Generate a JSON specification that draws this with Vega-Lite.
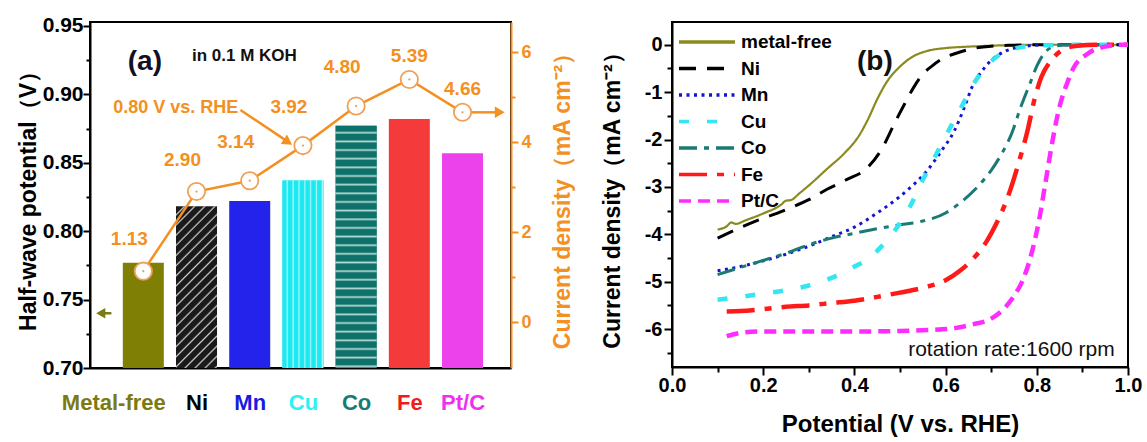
{
"$schema":"https://vega.github.io/schema/vega-lite/v6.json",
"background":"white",
"padding":{"left":16,"top":13,"right":5,"bottom":0},
"config":{
  "font":"Liberation Sans",
  "view":{"stroke":"black","strokeWidth":2},
  "axis":{"grid":false,"domainColor":"black","domainWidth":2,"tickColor":"black","tickWidth":2,"labelFont":"Liberation Sans","labelFontWeight":"bold","labelFontSize":20,"labelColor":"black","titleFont":"Liberation Sans","titleFontWeight":"bold","titleFontSize":23,"titleColor":"black"},
  "text":{"font":"Liberation Sans"}
},
"spacing":24,
"resolve":{"scale":{"color":"independent","strokeDash":"independent"},"legend":{"color":"independent","strokeDash":"independent"}},
"hconcat":[
{
 "width":421,"height":346,
 "data":{"values":[
  {"idx":0,"name":"Metal-free","hwp":0.777,"cd":1.13},
  {"idx":1,"name":"Ni","hwp":0.818,"cd":2.90},
  {"idx":2,"name":"Mn","hwp":0.822,"cd":3.14},
  {"idx":3,"name":"Cu","hwp":0.837,"cd":3.92},
  {"idx":4,"name":"Co","hwp":0.877,"cd":4.80},
  {"idx":5,"name":"Fe","hwp":0.882,"cd":5.39},
  {"idx":6,"name":"Pt/C","hwp":0.857,"cd":4.66}
 ]},
 "encoding":{
  "x":{"field":"idx","type":"quantitative","scale":{"domain":[-0.908,6.817],"nice":false,"zero":false},
       "axis":{"values":[0,1,2,3,4,5,6],"labelExpr":"['Metal-free','Ni','Mn','Cu','Co','Fe','Pt/C'][datum.value]","ticks":false,"labelPadding":24,"labelFontSize":22,"labelFlush":false,"labelOverlap":false,"title":null,
        "labelOffset":{"condition":{"test":"datum.value==0","value":-30},"value":0},
        "labelColor":{"condition":[{"test":"datum.value==0","value":"#7b7b12"},{"test":"datum.value==2","value":"#1a1ae0"},{"test":"datum.value==3","value":"#2ef0f5"},{"test":"datum.value==4","value":"#187a74"},{"test":"datum.value==5","value":"#f21c1c"},{"test":"datum.value==6","value":"#f030f0"}],"value":"black"}}}
 },
 "layer":[
  {
   "encoding":{"y":{"field":"hwp","type":"quantitative","scale":{"domain":[0.70,0.9529],"nice":false,"zero":false},
      "axis":{"values":[0.70,0.725,0.75,0.775,0.80,0.825,0.85,0.875,0.90,0.925,0.95],
       "labelExpr":"abs(datum.value*20-round(datum.value*20))<0.01 ? format(datum.value,'.2f') : ''",
       "tickSize":{"condition":{"test":"abs(datum.value*20-round(datum.value*20))<0.01","value":7},"value":4},
       "labelPadding":0,"labelFontSize":21,"title":"Half-wave potential（V）","titlePadding":2}}},
   "layer":[
    {"mark":{"type":"bar","width":41},
     "encoding":{"y2":{"datum":0.70},
      "fill":{"field":"name","type":"nominal","legend":null,"scale":{"domain":["Metal-free","Ni","Mn","Cu","Co","Fe","Pt/C"],"range":["#7f7f05","#262626","#2323ec","#28ecf2","#157a72","#f43a3a","#ec42ec"]}}}},
    {"transform":[{"filter":"datum.name=='Ni'"}],
     "mark":{"type":"bar","width":41,"fill":{"gradient":"linear","x1":0,"y1":0,"x2":0.3,"y2":1.178,"stops":[
      {"offset":0,"color":"#1a1a1a"},{"offset":0.0325,"color":"#1a1a1a"},{"offset":0.0425,"color":"#c8c8c8"},
      {"offset":0.05,"color":"#1a1a1a"},{"offset":0.0825,"color":"#1a1a1a"},{"offset":0.0925,"color":"#c8c8c8"},
      {"offset":0.10,"color":"#1a1a1a"},{"offset":0.1325,"color":"#1a1a1a"},{"offset":0.1425,"color":"#c8c8c8"},
      {"offset":0.15,"color":"#1a1a1a"},{"offset":0.1825,"color":"#1a1a1a"},{"offset":0.1925,"color":"#c8c8c8"},
      {"offset":0.20,"color":"#1a1a1a"},{"offset":0.2325,"color":"#1a1a1a"},{"offset":0.2425,"color":"#c8c8c8"},
      {"offset":0.25,"color":"#1a1a1a"},{"offset":0.2825,"color":"#1a1a1a"},{"offset":0.2925,"color":"#c8c8c8"},
      {"offset":0.30,"color":"#1a1a1a"},{"offset":0.3325,"color":"#1a1a1a"},{"offset":0.3425,"color":"#c8c8c8"},
      {"offset":0.35,"color":"#1a1a1a"},{"offset":0.3825,"color":"#1a1a1a"},{"offset":0.3925,"color":"#c8c8c8"},
      {"offset":0.40,"color":"#1a1a1a"},{"offset":0.4325,"color":"#1a1a1a"},{"offset":0.4425,"color":"#c8c8c8"},
      {"offset":0.45,"color":"#1a1a1a"},{"offset":0.4825,"color":"#1a1a1a"},{"offset":0.4925,"color":"#c8c8c8"},
      {"offset":0.50,"color":"#1a1a1a"},{"offset":0.5325,"color":"#1a1a1a"},{"offset":0.5425,"color":"#c8c8c8"},
      {"offset":0.55,"color":"#1a1a1a"},{"offset":0.5825,"color":"#1a1a1a"},{"offset":0.5925,"color":"#c8c8c8"},
      {"offset":0.60,"color":"#1a1a1a"},{"offset":0.6325,"color":"#1a1a1a"},{"offset":0.6425,"color":"#c8c8c8"},
      {"offset":0.65,"color":"#1a1a1a"},{"offset":0.6825,"color":"#1a1a1a"},{"offset":0.6925,"color":"#c8c8c8"},
      {"offset":0.70,"color":"#1a1a1a"},{"offset":0.7325,"color":"#1a1a1a"},{"offset":0.7425,"color":"#c8c8c8"},
      {"offset":0.75,"color":"#1a1a1a"},{"offset":0.7825,"color":"#1a1a1a"},{"offset":0.7925,"color":"#c8c8c8"},
      {"offset":0.80,"color":"#1a1a1a"},{"offset":0.8325,"color":"#1a1a1a"},{"offset":0.8425,"color":"#c8c8c8"},
      {"offset":0.85,"color":"#1a1a1a"},{"offset":0.8825,"color":"#1a1a1a"},{"offset":0.8925,"color":"#c8c8c8"},
      {"offset":0.90,"color":"#1a1a1a"},{"offset":0.9325,"color":"#1a1a1a"},{"offset":0.9425,"color":"#c8c8c8"},
      {"offset":0.95,"color":"#1a1a1a"},{"offset":0.9825,"color":"#1a1a1a"},{"offset":0.9925,"color":"#c8c8c8"},
      {"offset":1,"color":"#1a1a1a"}]}},
     "encoding":{"y2":{"datum":0.70}}},
    {"transform":[{"filter":"datum.name=='Cu'"}],
     "mark":{"type":"bar","width":41,"fill":{"gradient":"linear","x1":0,"y1":0,"x2":1,"y2":0,"stops":[
      {"offset":0,"color":"#1fe9f0"},{"offset":0.0857,"color":"#1fe9f0"},{"offset":0.1214,"color":"#b0f8fa"},
      {"offset":0.1429,"color":"#1fe9f0"},{"offset":0.2286,"color":"#1fe9f0"},{"offset":0.2643,"color":"#b0f8fa"},
      {"offset":0.2857,"color":"#1fe9f0"},{"offset":0.3714,"color":"#1fe9f0"},{"offset":0.4071,"color":"#b0f8fa"},
      {"offset":0.4286,"color":"#1fe9f0"},{"offset":0.5143,"color":"#1fe9f0"},{"offset":0.5500,"color":"#b0f8fa"},
      {"offset":0.5714,"color":"#1fe9f0"},{"offset":0.6571,"color":"#1fe9f0"},{"offset":0.6929,"color":"#b0f8fa"},
      {"offset":0.7143,"color":"#1fe9f0"},{"offset":0.8000,"color":"#1fe9f0"},{"offset":0.8357,"color":"#b0f8fa"},
      {"offset":0.8571,"color":"#1fe9f0"},{"offset":0.9429,"color":"#1fe9f0"},{"offset":0.9786,"color":"#b0f8fa"},
      {"offset":1,"color":"#1fe9f0"}]}},
     "encoding":{"y2":{"datum":0.70}}},
    {"transform":[{"filter":"datum.name=='Co'"}],
     "mark":{"type":"bar","width":41,"fill":{"gradient":"linear","x1":0,"y1":0,"x2":0,"y2":1,"stops":[
      {"offset":0,"color":"#0f726a"},{"offset":0.0214,"color":"#0f726a"},{"offset":0.0286,"color":"#b4dad4"},
      {"offset":0.0357,"color":"#0f726a"},{"offset":0.0571,"color":"#0f726a"},{"offset":0.0643,"color":"#b4dad4"},
      {"offset":0.0714,"color":"#0f726a"},{"offset":0.0929,"color":"#0f726a"},{"offset":0.1000,"color":"#b4dad4"},
      {"offset":0.1071,"color":"#0f726a"},{"offset":0.1286,"color":"#0f726a"},{"offset":0.1357,"color":"#b4dad4"},
      {"offset":0.1429,"color":"#0f726a"},{"offset":0.1643,"color":"#0f726a"},{"offset":0.1714,"color":"#b4dad4"},
      {"offset":0.1786,"color":"#0f726a"},{"offset":0.2000,"color":"#0f726a"},{"offset":0.2071,"color":"#b4dad4"},
      {"offset":0.2143,"color":"#0f726a"},{"offset":0.2357,"color":"#0f726a"},{"offset":0.2429,"color":"#b4dad4"},
      {"offset":0.2500,"color":"#0f726a"},{"offset":0.2714,"color":"#0f726a"},{"offset":0.2786,"color":"#b4dad4"},
      {"offset":0.2857,"color":"#0f726a"},{"offset":0.3071,"color":"#0f726a"},{"offset":0.3143,"color":"#b4dad4"},
      {"offset":0.3214,"color":"#0f726a"},{"offset":0.3429,"color":"#0f726a"},{"offset":0.3500,"color":"#b4dad4"},
      {"offset":0.3571,"color":"#0f726a"},{"offset":0.3786,"color":"#0f726a"},{"offset":0.3857,"color":"#b4dad4"},
      {"offset":0.3929,"color":"#0f726a"},{"offset":0.4143,"color":"#0f726a"},{"offset":0.4214,"color":"#b4dad4"},
      {"offset":0.4286,"color":"#0f726a"},{"offset":0.4500,"color":"#0f726a"},{"offset":0.4571,"color":"#b4dad4"},
      {"offset":0.4643,"color":"#0f726a"},{"offset":0.4857,"color":"#0f726a"},{"offset":0.4929,"color":"#b4dad4"},
      {"offset":0.5000,"color":"#0f726a"},{"offset":0.5214,"color":"#0f726a"},{"offset":0.5286,"color":"#b4dad4"},
      {"offset":0.5357,"color":"#0f726a"},{"offset":0.5571,"color":"#0f726a"},{"offset":0.5643,"color":"#b4dad4"},
      {"offset":0.5714,"color":"#0f726a"},{"offset":0.5929,"color":"#0f726a"},{"offset":0.6000,"color":"#b4dad4"},
      {"offset":0.6071,"color":"#0f726a"},{"offset":0.6286,"color":"#0f726a"},{"offset":0.6357,"color":"#b4dad4"},
      {"offset":0.6429,"color":"#0f726a"},{"offset":0.6643,"color":"#0f726a"},{"offset":0.6714,"color":"#b4dad4"},
      {"offset":0.6786,"color":"#0f726a"},{"offset":0.7000,"color":"#0f726a"},{"offset":0.7071,"color":"#b4dad4"},
      {"offset":0.7143,"color":"#0f726a"},{"offset":0.7357,"color":"#0f726a"},{"offset":0.7429,"color":"#b4dad4"},
      {"offset":0.7500,"color":"#0f726a"},{"offset":0.7714,"color":"#0f726a"},{"offset":0.7786,"color":"#b4dad4"},
      {"offset":0.7857,"color":"#0f726a"},{"offset":0.8071,"color":"#0f726a"},{"offset":0.8143,"color":"#b4dad4"},
      {"offset":0.8214,"color":"#0f726a"},{"offset":0.8429,"color":"#0f726a"},{"offset":0.8500,"color":"#b4dad4"},
      {"offset":0.8571,"color":"#0f726a"},{"offset":0.8786,"color":"#0f726a"},{"offset":0.8857,"color":"#b4dad4"},
      {"offset":0.8929,"color":"#0f726a"},{"offset":0.9143,"color":"#0f726a"},{"offset":0.9214,"color":"#b4dad4"},
      {"offset":0.9286,"color":"#0f726a"},{"offset":0.9500,"color":"#0f726a"},{"offset":0.9571,"color":"#b4dad4"},
      {"offset":0.9643,"color":"#0f726a"},{"offset":0.9857,"color":"#0f726a"},{"offset":0.9929,"color":"#b4dad4"},
      {"offset":1,"color":"#0f726a"}]}},
     "encoding":{"y2":{"datum":0.70}}},
    {"data":{"values":[{"idx":-0.60,"idx2":-0.78,"hwp":0.74}]},
     "mark":{"type":"rule","stroke":"#7b7b12","strokeWidth":2.5},
     "encoding":{"x2":{"field":"idx2"}}},
    {"data":{"values":[{"idx":-0.80,"hwp":0.74}]},
     "mark":{"type":"point","shape":"triangle-left","filled":true,"fill":"#7b7b12","stroke":null,"size":110,"opacity":1}}
   ]
  },
  {
   "encoding":{"y":{"field":"cd","type":"quantitative","scale":{"domain":[-1.022,6.667],"nice":false,"zero":false},
     "axis":{"orient":"right","values":[0,1,2,3,4,5,6],
      "labelExpr":"datum.value % 2 == 0 ? '' + datum.value : ''",
      "tickSize":{"condition":{"test":"datum.value % 2 == 0","value":7},"value":4},
      "domainColor":"#f39021","tickColor":"#f39021","labelColor":"#f39021","titleColor":"#f39021",
      "labelFontSize":18,"labelPadding":3,"title":"Current density（mA cm⁻²）","titleAngle":270,"titlePadding":43}}},
   "layer":[
    {"mark":{"type":"line","stroke":"#f39021","strokeWidth":2.5}},
    {"data":{"values":[{"idx":1.826,"cd":4.71,"idx2":2.70,"cd2":4.02},{"idx":6.12,"cd":4.66,"idx2":6.70,"cd2":4.66}]},
     "mark":{"type":"rule","stroke":"#f39021","strokeWidth":2.5},
     "encoding":{"x2":{"field":"idx2"},"y2":{"field":"cd2"}}},
    {"data":{"values":[{"idx":2.72,"cd":4.0}]},
     "mark":{"type":"point","shape":"triangle-right","angle":33,"filled":true,"fill":"#f39021","stroke":null,"size":130,"opacity":1}},
    {"data":{"values":[{"idx":6.70,"cd":4.66}]},
     "mark":{"type":"point","shape":"triangle-right","filled":true,"fill":"#f39021","stroke":null,"size":130,"opacity":1}},
    {"mark":{"type":"point","shape":"circle","filled":true,"fill":"white","stroke":"#f0a055","strokeWidth":1.8,"size":300,"opacity":1}},
    {"mark":{"type":"point","shape":"circle","filled":true,"fill":"#d9a070","size":5,"opacity":1}},
    {"transform":[{"filter":"datum.idx<=1"}],
     "mark":{"type":"text","color":"#f39021","fontSize":19,"fontWeight":"bold","dx":-14,"dy":-32},
     "encoding":{"text":{"field":"cd","type":"quantitative","format":".2f"}}},
    {"transform":[{"filter":"datum.idx>=2 && datum.idx<=4"}],
     "mark":{"type":"text","color":"#f39021","fontSize":19,"fontWeight":"bold","dx":-14,"dy":-39},
     "encoding":{"text":{"field":"cd","type":"quantitative","format":".2f"}}},
    {"transform":[{"filter":"datum.idx>=5"}],
     "mark":{"type":"text","color":"#f39021","fontSize":19,"fontWeight":"bold","dx":0,"dy":-23},
     "encoding":{"text":{"field":"cd","type":"quantitative","format":".2f"}}},
    {"data":{"values":[{"idx":0.61,"cd":4.76,"t":"0.80 V vs. RHE"}]},
     "mark":{"type":"text","color":"#f39021","fontSize":18,"fontWeight":"bold"},
     "encoding":{"text":{"field":"t"}}},
    {"data":{"values":[{"idx":0.03,"cd":5.78,"t":"(a)"}]},
     "mark":{"type":"text","color":"#111122","fontSize":28,"fontWeight":"bold"},
     "encoding":{"text":{"field":"t"}}},
    {"data":{"values":[{"idx":1.90,"cd":5.91,"t":"in 0.1 M KOH"}]},
     "mark":{"type":"text","color":"#111111","fontSize":17,"fontWeight":"bold"},
     "encoding":{"text":{"field":"t"}}}
   ]
  }
 ],
 "resolve":{"scale":{"y":"independent"},"axis":{"y":"independent"}}
},
{
 "width":456,"height":345,
 "encoding":{
  "x":{"field":"x","type":"quantitative","scale":{"domain":[0,1],"nice":false,"zero":false},
   "axis":{"values":[0,0.1,0.2,0.3,0.4,0.5,0.6,0.7,0.8,0.9,1.0],
    "labelExpr":"abs(datum.value*5-round(datum.value*5))<0.01 ? format(datum.value,'.1f') : ''",
    "tickSize":{"condition":{"test":"abs(datum.value*5-round(datum.value*5))<0.01","value":8},"value":5},
    "labelPadding":0,"labelFlush":false,"labelOverlap":false,"title":"Potential (V vs. RHE)","titleFontSize":24,"titlePadding":17}},
  "y":{"field":"y","type":"quantitative","scale":{"domain":[-6.8,0.48],"nice":false,"zero":false},
   "axis":{"values":[-6.5,-6,-5.5,-5,-4.5,-4,-3.5,-3,-2.5,-2,-1.5,-1,-0.5,0],
    "labelExpr":"abs(datum.value-round(datum.value))<0.01 ? '' + round(datum.value) : ''",
    "tickSize":{"condition":{"test":"abs(datum.value-round(datum.value))<0.01","value":8},"value":5},
    "labelPadding":2,"labelOverlap":false,"title":"Current density（mA cm⁻²）","titlePadding":20}}
 },
 "layer":[
  {"data":{"name":"lsv"},
   "transform":[{"filter":"datum.s=='metal-free'"}],
   "mark":{"type":"line","interpolate":"monotone","strokeWidth":2.2},
   "encoding":{
    "color":{"field":"s","type":"nominal","scale":{"domain":["metal-free","Ni","Mn","Cu","Co","Fe","Pt/C"],"range":["#8a8a1e","#000000","#1414d2","#33e6f0","#1a7a74","#ff1a1a","#ff2cff"]},
      "legend":{"orient":"none","legendX":23,"legendY":8,"title":null,"labelFontSize":19,"labelFontWeight":"bold","labelFont":"Liberation Sans","labelColor":"black","symbolType":"M-2.8,0H2.8","symbolSize":400,"symbolStrokeWidth":3.5,"rowPadding":4.5,"labelOffset":22}},
    "strokeDash":{"field":"s","type":"nominal","scale":{"domain":["metal-free","Ni","Mn","Cu","Co","Fe","Pt/C"],"range":[[1,0],[17,11],[3,4.5],[10,18],[18,7,5,7],[28,10,7,10],[12,7]]},
      "legend":{"orient":"none","legendX":23,"legendY":8,"title":null,"labelFontSize":19,"labelFontWeight":"bold","labelFont":"Liberation Sans","labelColor":"black","symbolType":"M-2.8,0H2.8","symbolSize":400,"symbolStrokeWidth":3.5,"rowPadding":4.5,"labelOffset":22}}
   }},
  {"data":{"name":"lsv"},
   "transform":[{"filter":"datum.s=='Ni' || datum.s=='Mn' || datum.s=='Co'"}],
   "mark":{"type":"line","interpolate":"monotone","strokeWidth":3},
   "encoding":{"color":{"field":"s","type":"nominal"},"strokeDash":{"field":"s","type":"nominal"}}},
  {"data":{"name":"lsv"},
   "transform":[{"filter":"datum.s=='Cu' || datum.s=='Fe' || datum.s=='Pt/C'"}],
   "mark":{"type":"line","interpolate":"monotone","strokeWidth":4.5},
   "encoding":{"color":{"field":"s","type":"nominal"},"strokeDash":{"field":"s","type":"nominal"}}},
  {"data":{"values":[{"x":0.445,"y":-0.37,"t":"(b)"}]},
   "mark":{"type":"text","fontSize":28,"fontWeight":"bold","color":"#111111"},
   "encoding":{"text":{"field":"t"}}},
  {"data":{"values":[{"x":0.971,"y":-6.44,"t":"rotation rate:1600 rpm"}]},
   "mark":{"type":"text","fontSize":21,"fontWeight":"normal","color":"#111111","align":"right"},
   "encoding":{"text":{"field":"t"}}}
 ]
}
],
"datasets":{"lsv":[
 {"s":"metal-free","x":0.10,"y":-3.90},{"s":"metal-free","x":0.12,"y":-3.83},{"s":"metal-free","x":0.13,"y":-3.75},{"s":"metal-free","x":0.14,"y":-3.78},{"s":"metal-free","x":0.16,"y":-3.71},{"s":"metal-free","x":0.20,"y":-3.56},{"s":"metal-free","x":0.24,"y":-3.37},{"s":"metal-free","x":0.25,"y":-3.29},{"s":"metal-free","x":0.26,"y":-3.28},{"s":"metal-free","x":0.28,"y":-3.13},{"s":"metal-free","x":0.30,"y":-2.97},{"s":"metal-free","x":0.34,"y":-2.62},{"s":"metal-free","x":0.38,"y":-2.27},{"s":"metal-free","x":0.41,"y":-1.92},{"s":"metal-free","x":0.43,"y":-1.57},{"s":"metal-free","x":0.45,"y":-1.15},{"s":"metal-free","x":0.47,"y":-0.80},{"s":"metal-free","x":0.50,"y":-0.46},{"s":"metal-free","x":0.53,"y":-0.24},{"s":"metal-free","x":0.56,"y":-0.13},{"s":"metal-free","x":0.60,"y":-0.07},{"s":"metal-free","x":0.65,"y":-0.04},{"s":"metal-free","x":0.70,"y":-0.02},{"s":"metal-free","x":0.80,"y":0},{"s":"metal-free","x":1.00,"y":0},
 {"s":"Ni","x":0.10,"y":-4.08},{"s":"Ni","x":0.15,"y":-3.86},{"s":"Ni","x":0.20,"y":-3.66},{"s":"Ni","x":0.23,"y":-3.56},{"s":"Ni","x":0.26,"y":-3.44},{"s":"Ni","x":0.30,"y":-3.27},{"s":"Ni","x":0.34,"y":-3.05},{"s":"Ni","x":0.38,"y":-2.86},{"s":"Ni","x":0.43,"y":-2.58},{"s":"Ni","x":0.46,"y":-2.20},{"s":"Ni","x":0.49,"y":-1.62},{"s":"Ni","x":0.51,"y":-1.25},{"s":"Ni","x":0.53,"y":-0.90},{"s":"Ni","x":0.55,"y":-0.62},{"s":"Ni","x":0.57,"y":-0.45},{"s":"Ni","x":0.60,"y":-0.26},{"s":"Ni","x":0.62,"y":-0.19},{"s":"Ni","x":0.66,"y":-0.08},{"s":"Ni","x":0.70,"y":-0.03},{"s":"Ni","x":0.75,"y":-0.01},{"s":"Ni","x":0.80,"y":0},{"s":"Ni","x":1.00,"y":0},
 {"s":"Mn","x":0.10,"y":-4.77},{"s":"Mn","x":0.15,"y":-4.68},{"s":"Mn","x":0.20,"y":-4.56},{"s":"Mn","x":0.25,"y":-4.42},{"s":"Mn","x":0.30,"y":-4.25},{"s":"Mn","x":0.35,"y":-4.05},{"s":"Mn","x":0.40,"y":-3.85},{"s":"Mn","x":0.45,"y":-3.55},{"s":"Mn","x":0.50,"y":-3.20},{"s":"Mn","x":0.53,"y":-2.95},{"s":"Mn","x":0.56,"y":-2.65},{"s":"Mn","x":0.59,"y":-2.25},{"s":"Mn","x":0.62,"y":-1.80},{"s":"Mn","x":0.64,"y":-1.35},{"s":"Mn","x":0.66,"y":-0.85},{"s":"Mn","x":0.68,"y":-0.55},{"s":"Mn","x":0.70,"y":-0.33},{"s":"Mn","x":0.73,"y":-0.14},{"s":"Mn","x":0.77,"y":-0.04},{"s":"Mn","x":0.82,"y":0},{"s":"Mn","x":1.00,"y":0},
 {"s":"Cu","x":0.10,"y":-5.38},{"s":"Cu","x":0.15,"y":-5.32},{"s":"Cu","x":0.20,"y":-5.25},{"s":"Cu","x":0.25,"y":-5.18},{"s":"Cu","x":0.30,"y":-5.08},{"s":"Cu","x":0.35,"y":-4.92},{"s":"Cu","x":0.40,"y":-4.68},{"s":"Cu","x":0.43,"y":-4.52},{"s":"Cu","x":0.46,"y":-4.25},{"s":"Cu","x":0.49,"y":-3.90},{"s":"Cu","x":0.52,"y":-3.45},{"s":"Cu","x":0.55,"y":-2.85},{"s":"Cu","x":0.58,"y":-2.30},{"s":"Cu","x":0.61,"y":-1.75},{"s":"Cu","x":0.63,"y":-1.40},{"s":"Cu","x":0.66,"y":-0.85},{"s":"Cu","x":0.69,"y":-0.45},{"s":"Cu","x":0.72,"y":-0.20},{"s":"Cu","x":0.76,"y":-0.06},{"s":"Cu","x":0.80,"y":-0.02},{"s":"Cu","x":0.86,"y":0},{"s":"Cu","x":1.00,"y":0},
 {"s":"Co","x":0.10,"y":-4.85},{"s":"Co","x":0.15,"y":-4.70},{"s":"Co","x":0.20,"y":-4.55},{"s":"Co","x":0.25,"y":-4.40},{"s":"Co","x":0.30,"y":-4.22},{"s":"Co","x":0.35,"y":-4.08},{"s":"Co","x":0.40,"y":-3.98},{"s":"Co","x":0.45,"y":-3.88},{"s":"Co","x":0.50,"y":-3.80},{"s":"Co","x":0.55,"y":-3.72},{"s":"Co","x":0.60,"y":-3.55},{"s":"Co","x":0.63,"y":-3.35},{"s":"Co","x":0.67,"y":-3.00},{"s":"Co","x":0.70,"y":-2.65},{"s":"Co","x":0.72,"y":-2.35},{"s":"Co","x":0.745,"y":-1.87},{"s":"Co","x":0.765,"y":-1.31},{"s":"Co","x":0.785,"y":-0.82},{"s":"Co","x":0.80,"y":-0.45},{"s":"Co","x":0.82,"y":-0.14},{"s":"Co","x":0.84,"y":-0.03},{"s":"Co","x":0.87,"y":0},{"s":"Co","x":1.00,"y":0},
 {"s":"Fe","x":0.12,"y":-5.63},{"s":"Fe","x":0.15,"y":-5.62},{"s":"Fe","x":0.20,"y":-5.58},{"s":"Fe","x":0.25,"y":-5.53},{"s":"Fe","x":0.30,"y":-5.50},{"s":"Fe","x":0.35,"y":-5.45},{"s":"Fe","x":0.40,"y":-5.40},{"s":"Fe","x":0.45,"y":-5.32},{"s":"Fe","x":0.50,"y":-5.23},{"s":"Fe","x":0.55,"y":-5.13},{"s":"Fe","x":0.60,"y":-4.97},{"s":"Fe","x":0.63,"y":-4.78},{"s":"Fe","x":0.66,"y":-4.52},{"s":"Fe","x":0.69,"y":-4.15},{"s":"Fe","x":0.71,"y":-3.80},{"s":"Fe","x":0.735,"y":-3.25},{"s":"Fe","x":0.76,"y":-2.50},{"s":"Fe","x":0.78,"y":-1.80},{"s":"Fe","x":0.795,"y":-1.15},{"s":"Fe","x":0.81,"y":-0.68},{"s":"Fe","x":0.83,"y":-0.35},{"s":"Fe","x":0.86,"y":-0.09},{"s":"Fe","x":0.89,"y":-0.02},{"s":"Fe","x":0.93,"y":0},{"s":"Fe","x":1.00,"y":0},
 {"s":"Pt/C","x":0.12,"y":-6.15},{"s":"Pt/C","x":0.15,"y":-6.08},{"s":"Pt/C","x":0.20,"y":-6.05},{"s":"Pt/C","x":0.30,"y":-6.05},{"s":"Pt/C","x":0.40,"y":-6.05},{"s":"Pt/C","x":0.50,"y":-6.04},{"s":"Pt/C","x":0.56,"y":-6.02},{"s":"Pt/C","x":0.62,"y":-5.98},{"s":"Pt/C","x":0.66,"y":-5.90},{"s":"Pt/C","x":0.70,"y":-5.78},{"s":"Pt/C","x":0.73,"y":-5.55},{"s":"Pt/C","x":0.75,"y":-5.30},{"s":"Pt/C","x":0.77,"y":-4.95},{"s":"Pt/C","x":0.79,"y":-4.35},{"s":"Pt/C","x":0.805,"y":-3.70},{"s":"Pt/C","x":0.82,"y":-2.85},{"s":"Pt/C","x":0.835,"y":-2.00},{"s":"Pt/C","x":0.85,"y":-1.30},{"s":"Pt/C","x":0.865,"y":-0.85},{"s":"Pt/C","x":0.88,"y":-0.50},{"s":"Pt/C","x":0.91,"y":-0.20},{"s":"Pt/C","x":0.95,"y":-0.04},{"s":"Pt/C","x":0.99,"y":0},{"s":"Pt/C","x":1.00,"y":0}
]}
}
